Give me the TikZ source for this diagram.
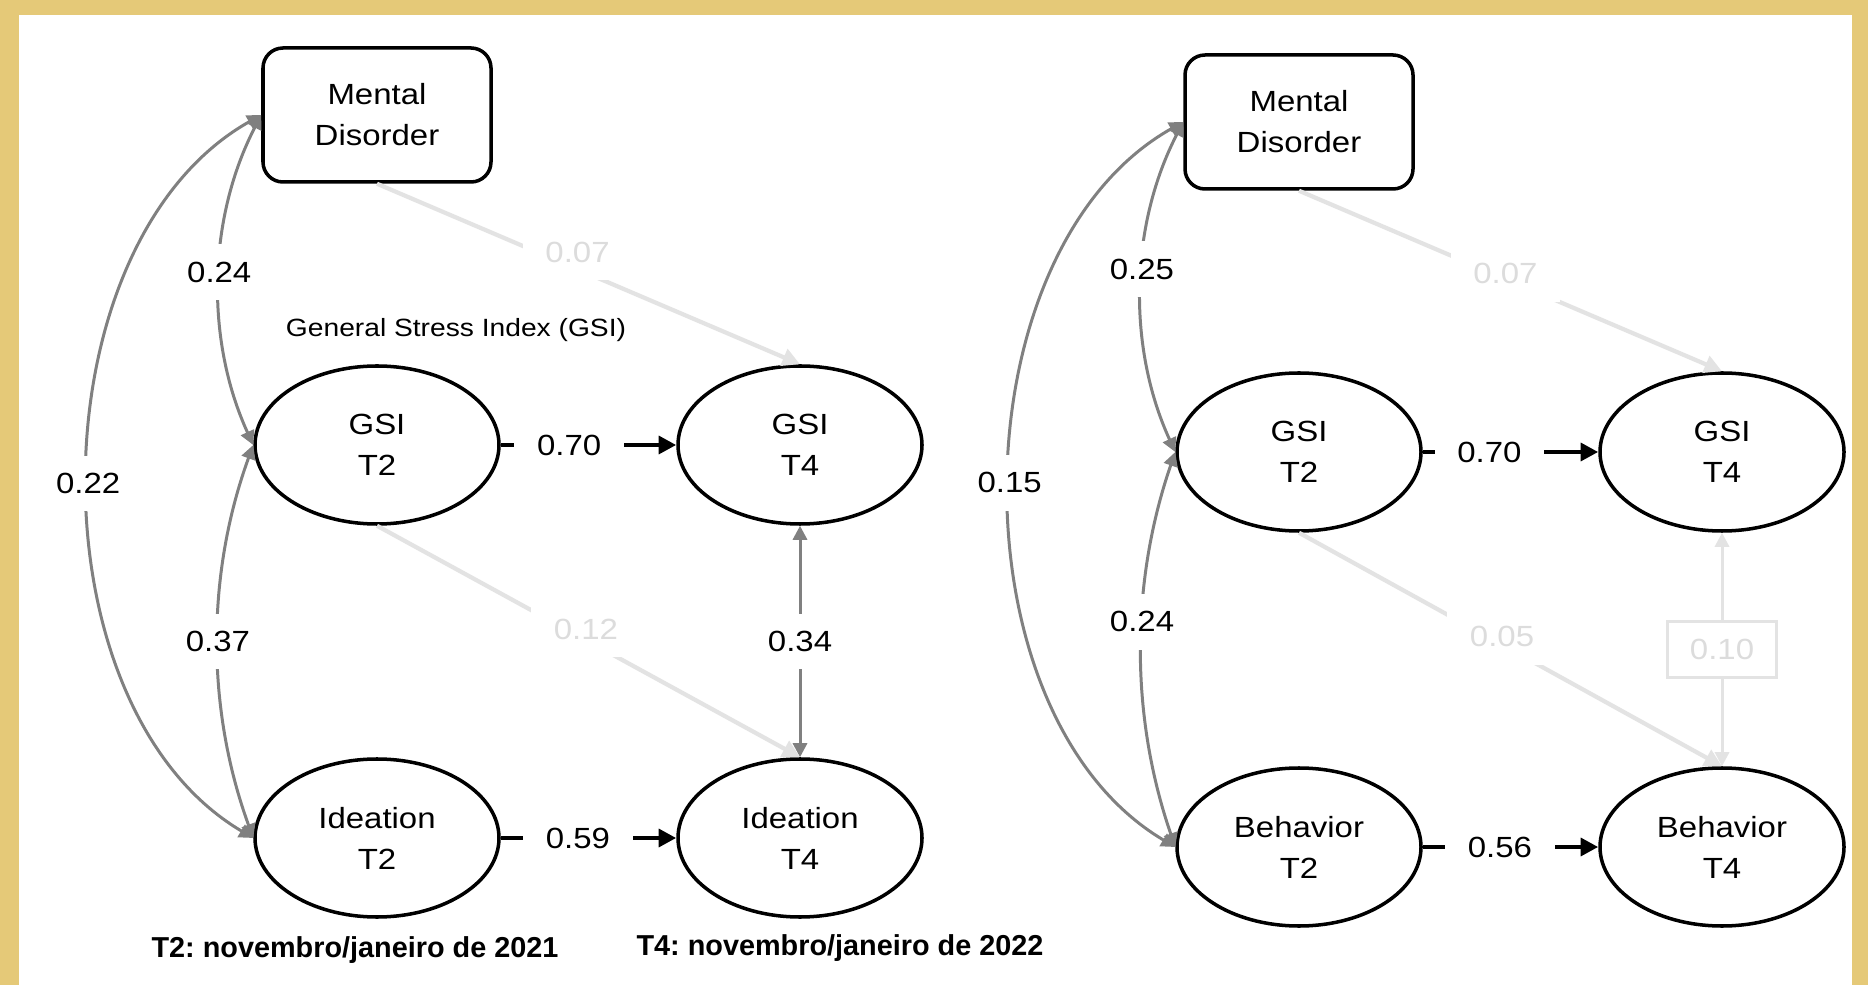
\documentclass[tikz,border=0pt]{standalone}
\usepackage{fontspec}
\setmainfont{Liberation Sans}[FakeStretch=1.13]
\newfontfamily\notefont{Liberation Sans}
\usetikzlibrary{shapes.geometric, arrows.meta, positioning}
\definecolor{gold}{RGB}{229,201,120}
\definecolor{faint}{RGB}{227,227,227}
\definecolor{fainttext}{RGB}{220,220,220}
\definecolor{covgray}{RGB}{128,128,128}

\begin{document}
\begin{tikzpicture}[font=\fontsize{8.3}{11.7}\selectfont,
    box/.style = {draw, line width=1pt, rounded corners=0.2cm, minimum width=2.28cm, minimum height=1.34cm, align=center},
    latent/.style = {draw, ellipse, line width=1pt, minimum width=2.44cm, minimum height=1.58cm, inner sep=0pt, align=center},
    coef/.style = {fill=white, inner xsep=6.5pt, inner ysep=5pt},
    effect/.style = {line width=1.3pt, -{Triangle[length=5pt, width=5pt]}},
    cov/.style = {draw=covgray, line width=0.85pt, {Triangle[length=4pt, width=4pt]}-{Triangle[length=4pt, width=4pt]}},
    weak/.style = {draw=faint, line width=1.2pt, -{Triangle[length=5pt, width=5pt]}},
    note/.style = {font=\notefont\bfseries\fontsize{8.2}{10}\selectfont\frenchspacing}]
\fill[gold] (0,0) rectangle (18.68,-9.85);
\fill[white] (0.19,-0.15) rectangle (18.52,-9.85);
\useasboundingbox (0,0) rectangle (18.68,-9.85);

% ideation model
\node[box] (md) at (3.77,-1.15) {Mental\\Disorder};
\node[latent] (g2) [node distance=3.3cm, below of=md] {GSI\\T2};
\node[latent] (g4) [node distance=4.23cm, right of=g2] {GSI\\T4};
\node[latent] (i2) [node distance=3.93cm, below of=g2] {Ideation\\T2};
\node[latent] (i4) [node distance=4.23cm, right of=i2] {Ideation\\T4};
\node[font=\fontsize{7.1}{9}\selectfont] (gsiname) at (4.56,-3.30) {General Stress Index (GSI)};
\draw[effect] (g2) -- node[coef, pos=0.39] {0.70} (g4);
\draw[effect] (i2) -- node[coef, pos=0.44] {0.59} (i4);
\draw[cov] (md.west) to[bend right=26, looseness=0.9] node[coef, pos=0.48] {0.24} (g2.west);
\draw[cov] (g2.west) to[bend right=20, looseness=0.9] node[coef] {0.37} (i2.west);
\draw[cov] (md.west) to[bend right=60, looseness=0.92] node[coef, pos=0.51] {0.22} (i2.west);
\draw[cov] (g4) -- node[coef] {0.34} (i4);
\draw[weak] (md.south) -- node[coef, text=fainttext, pos=0.474, yshift=0.17cm] {0.07} (g4.north);
\draw[weak] (g2.south) -- node[coef, text=fainttext, pos=0.494, yshift=0.11cm] {0.12} (i4.north);

% behavior model
\node[box] (rmd) at (12.99,-1.22) {Mental\\Disorder};
\node[latent] (rg2) [node distance=3.3cm, below of=rmd] {GSI\\T2};
\node[latent] (rg4) [node distance=4.23cm, right of=rg2] {GSI\\T4};
\node[latent] (rb2) [node distance=3.95cm, below of=rg2] {Behavior\\T2};
\node[latent] (rb4) [node distance=4.23cm, right of=rb2] {Behavior\\T4};
\draw[effect] (rg2) -- node[coef, pos=0.38] {0.70} (rg4);
\draw[effect] (rb2) -- node[coef, pos=0.44] {0.56} (rb4);
\draw[cov] (rmd.west) to[bend right=26, looseness=0.9] node[coef, pos=0.45] {0.25} (rg2.west);
\draw[cov] (rg2.west) to[bend right=19, looseness=0.9] node[coef, pos=0.43] {0.24} (rb2.west);
\draw[cov] (rmd.west) to[bend right=60, looseness=0.92] node[coef] {0.15} (rb2.west);
\draw[cov, draw=faint] (rg4) -- node[coef, draw=faint, text=fainttext] {0.10} (rb4);
\draw[weak] (rmd.south) -- node[coef, text=fainttext, pos=0.488, yshift=0.05cm] {0.07} (rg4.north);
\draw[weak] (rg2.south) -- node[coef, text=fainttext, pos=0.48, yshift=0.08cm] {0.05} (rb4.north);

\node[note] (t2note) at (3.55,-9.50) {T2: novembro/janeiro de 2021};
\node[note] (t4note) at (8.40,-9.48) {T4: novembro/janeiro de 2022};
\end{tikzpicture}
\end{document}
